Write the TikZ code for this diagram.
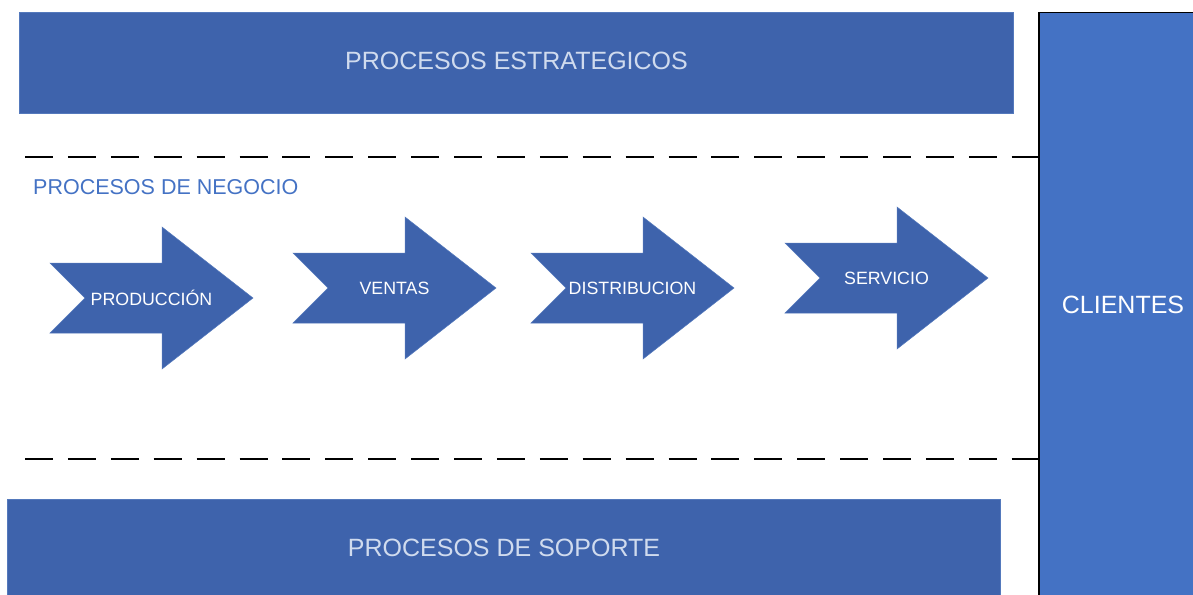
\documentclass[tikz,border=0pt]{standalone}
\usepackage{fontspec}
\setmainfont{Liberation Sans}
\definecolor{boxblue}{HTML}{3E63AC}
\definecolor{boxedge}{HTML}{5479BC}
\definecolor{cliblue}{HTML}{4472C4}
\definecolor{lbltxt}{HTML}{D0DBEE}
\definecolor{negtxt}{HTML}{4472C4}
\tikzset{
  bandbox/.style={fill=boxblue, draw=boxedge, line width=0.8pt},
  bandtxt/.style={text=lbltxt, font=\fontsize{25}{28}\selectfont},
  arrtxt/.style={text=white, font=\fontsize{17.8}{20}\selectfont},
  sepline/.style={line width=1.8pt, dash pattern=on 28pt off 14.9pt},
}
% #1 left x, #2 center y, #3 name, #4 text
\newcommand{\procarrow}[4]{%
  \fill[boxblue, draw=boxedge, line width=0.5pt]
    (#1,#2-35) -- ++(112,0) -- ++(0,-36) -- ++(91,71) -- ++(-91,71)
    -- ++(0,-36) -- ++(-112,0) -- ++(35,-35) -- cycle;
  \node[arrtxt] (#3) at (#1+101.5,#2) {#4};
}
\begin{document}
\begin{tikzpicture}[x=1pt,y=-1pt]
\useasboundingbox (0,0) rectangle (1193,594);
% clients column
\node[fill=cliblue, draw=black, line width=1.5pt, minimum width=170pt, minimum height=600pt, anchor=north west, inner sep=0pt] (cli) at (1038,12) {};
\node[text=white, font=\fontsize{25}{28}\selectfont] (clitxt) at (1123,305) {CLIENTES};
% top band
\node[bandbox, anchor=north west, minimum width=994pt, minimum height=101pt, inner sep=0pt] (estr) at (19,12) {};
\node[bandtxt] (estrtxt) at (516.5,61) {PROCESOS ESTRATEGICOS};
% bottom band
\node[bandbox, anchor=north west, minimum width=993pt, minimum height=110pt, inner sep=0pt] (sop) at (7,499) {};
\node[bandtxt] (soptxt) at (504,548) {PROCESOS DE SOPORTE};
% dashed separators
\coordinate (d1a) at (25,157);
\coordinate (d1b) at (1038,157);
\coordinate (d2a) at (25,459);
\coordinate (d2b) at (1038,459);
\draw[sepline] (d1a) -- (d1b);
\draw[sepline] (d2a) -- (d2b);
% business processes
\node[text=negtxt, font=\fontsize{21.5}{24}\selectfont, anchor=west, inner sep=0pt] (neg) at (33,187) {PROCESOS DE NEGOCIO};
\procarrow{50}{298}{prod}{PRODUCCIÓN}
\procarrow{293}{288}{vent}{VENTAS}
\procarrow{531}{288}{dist}{DISTRIBUCION}
\procarrow{785}{278}{serv}{SERVICIO}
\end{tikzpicture}
\end{document}
